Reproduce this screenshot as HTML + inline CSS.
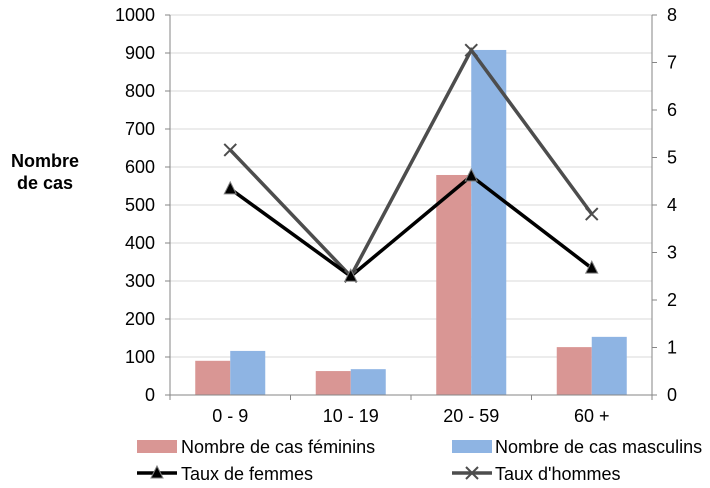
<!DOCTYPE html>
<html><head><meta charset="utf-8"><style>
body{margin:0;background:#fff;}
svg{display:block;font-family:"Liberation Sans",sans-serif;}
</style></head><body>
<svg id="c" width="710" height="488"></svg>
<script>
const categories=["0 - 9","10 - 19","20 - 59","60 +"];
const femaleCases=[90,63,579,126];
const maleCases=[116,68,908,153];
const femaleRate=[4.34,2.5,4.61,2.67];
const maleRate=[5.16,2.5,7.26,3.81];
const leftTicks=[0,100,200,300,400,500,600,700,800,900,1000];
const rightTicks=[0,1,2,3,4,5,6,7,8];
const NS="http://www.w3.org/2000/svg";
const svg=document.getElementById('c');
const L=170,R=652,T=15,B=395;
const yL=v=>B-(v/1000)*(B-T);
const yR=v=>B-(v/8)*(B-T);
const cw=(R-L)/categories.length;
const xc=i=>L+cw*(i+0.5);
function mk(t,a,txt){const e=document.createElementNS(NS,t);for(const k in a)e.setAttribute(k,a[k]);if(txt!==undefined)e.textContent=txt;svg.appendChild(e);return e;}
leftTicks.forEach(v=>{
 if(v>0){const g=mk('line',{x1:L,x2:R,y1:yL(v),y2:yL(v),stroke:'#d9d9d9','stroke-width':1});
 
 }
 const t=mk('text',{x:L-15,y:yL(v)+6,'text-anchor':'end','font-size':18,fill:'#000'},v);
 
 
 mk('line',{x1:L-5,x2:L,y1:yL(v),y2:yL(v),stroke:'#868686'});
});
rightTicks.forEach(v=>{
 const t=mk('text',{x:R+15,y:yR(v)+6,'text-anchor':'start','font-size':18,fill:'#000'},v);
 
 
 mk('line',{x1:R,x2:R+5,y1:yR(v),y2:yR(v),stroke:'#868686'});
});
categories.forEach((c,i)=>{
 const bf=mk('rect',{x:xc(i)-35,y:yL(femaleCases[i]),width:35,height:B-yL(femaleCases[i]),fill:'#d99694'});
 
 
 const bm=mk('rect',{x:xc(i),y:yL(maleCases[i]),width:35,height:B-yL(maleCases[i]),fill:'#8eb4e3'});
 
 
 const t=mk('text',{x:xc(i),y:B+27,'text-anchor':'middle','font-size':18},c);
 
 
 mk('line',{x1:L+cw*i,x2:L+cw*i,y1:B,y2:B+5,stroke:'#868686'});
});
mk('line',{x1:R,x2:R,y1:B,y2:B+5,stroke:'#868686'});
mk('line',{x1:L,x2:L,y1:T,y2:B,stroke:'#868686'});
mk('line',{x1:R,x2:R,y1:T,y2:B,stroke:'#868686'});
mk('line',{x1:L,x2:R,y1:B,y2:B,stroke:'#868686'});
const lm=mk('polyline',{points:maleRate.map((v,i)=>xc(i)+','+yR(v)).join(' '),fill:'none',stroke:'#4d4d4d','stroke-width':3.5});


const lf=mk('polyline',{points:femaleRate.map((v,i)=>xc(i)+','+yR(v)).join(' '),fill:'none',stroke:'#000','stroke-width':3.5});


function tri(x,y){return mk('polygon',{points:`${x},${y-7} ${x-6},${y+5} ${x+6},${y+5}`,fill:'#000',stroke:'#808080','stroke-width':1});}
function cross(x,y){const g=document.createElementNS(NS,'path');g.setAttribute('d',`M${x-6},${y-6}L${x+6},${y+6}M${x-6},${y+6}L${x+6},${y-6}`);g.setAttribute('stroke','#4d4d4d');g.setAttribute('stroke-width',2);svg.appendChild(g);return g;}
maleRate.forEach((v,i)=>{const m=cross(xc(i),yR(v));
 
 });
femaleRate.forEach((v,i)=>{const m=tri(xc(i),yR(v));
 
 });
</script>
<svg style="position:absolute;left:0;top:0" width="710" height="488">
<g font-family="Liberation Sans,sans-serif" font-size="18" font-weight="bold">
<text x="45" y="167" text-anchor="middle">Nombre</text>
<text x="45" y="189" text-anchor="middle">de cas</text></g>
<g font-family="Liberation Sans,sans-serif" font-size="18">
<g><rect x="137" y="440" width="40" height="13" fill="#d99694"/><text x="181" y="453">Nombre de cas féminins</text></g>
<g><rect x="452" y="440" width="40" height="13" fill="#8eb4e3"/><text x="495" y="453">Nombre de cas masculins</text></g>
<g><line x1="137" x2="177" y1="473" y2="473" stroke="#000" stroke-width="3.5"/><polygon points="157,466 151,478 163,478" fill="#000" stroke="#808080"/><text x="181" y="480">Taux de femmes</text></g>
<g><line x1="452" x2="492" y1="473" y2="473" stroke="#4d4d4d" stroke-width="3.5"/><path d="M466,467L478,479M466,479L478,467" stroke="#4d4d4d" stroke-width="2"/><text x="495" y="480">Taux d'hommes</text></g>
</g></svg>
</body></html>
